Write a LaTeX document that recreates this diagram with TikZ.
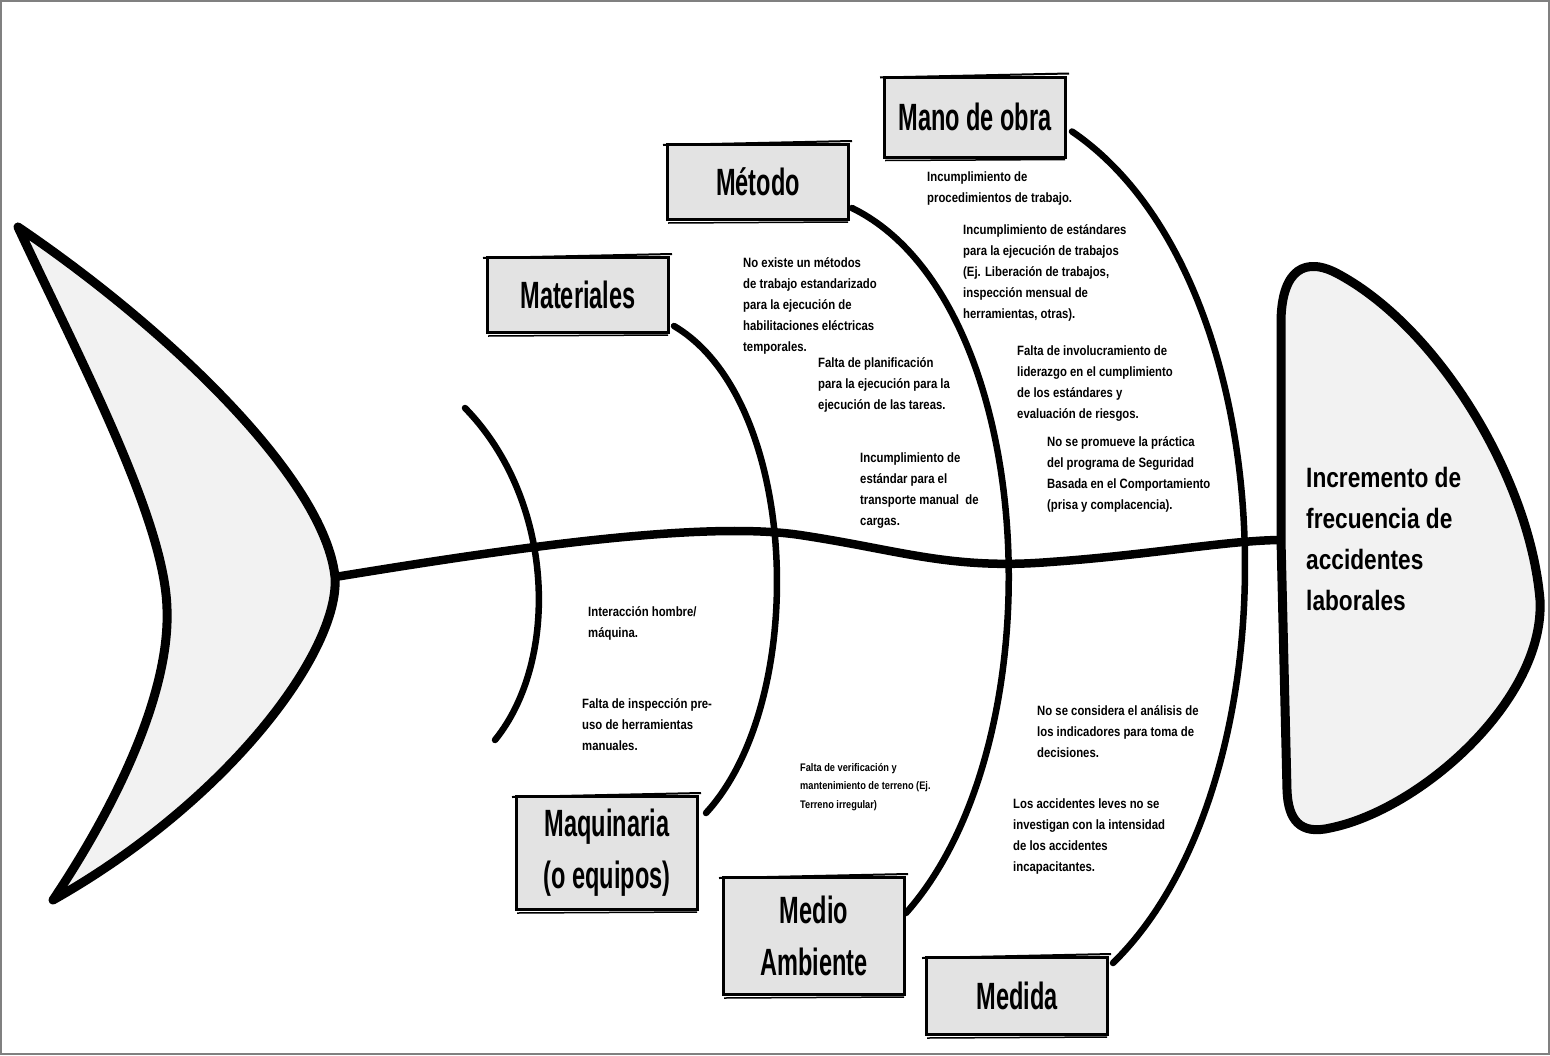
\documentclass[tikz,border=0pt]{standalone}
\usepackage{fontspec}
\setmainfont{Liberation Sans}
\newfontfamily\catfont[FakeStretch=0.62]{Liberation Sans Bold}
\newfontfamily\notefont[FakeStretch=0.84]{Liberation Sans Bold}
\newfontfamily\headfont[FakeStretch=0.81]{Liberation Sans Bold}
\usetikzlibrary{calc}
\definecolor{fishfill}{HTML}{F2F2F2}
\definecolor{boxfill}{HTML}{E3E3E3}
\definecolor{framegray}{HTML}{808080}
\pgfdeclarelayer{back}
\pgfsetlayers{back,main}

\begin{document}
\begin{tikzpicture}[x=1pt,y=-1pt,
  outline/.style={draw=black,line width=9pt,line join=round,fill=fishfill},
  bone/.style={draw=black,line width=6.5pt,line cap=round},
  catbox/.style={draw=black,line width=3pt,fill=boxfill,inner sep=0pt,
    minimum width=181pt,align=center,font=\catfont\fontsize{38}{52}\selectfont},
  note/.style={anchor=north west,inner sep=0pt,align=left,
    font=\notefont\fontsize{13.5}{21}\selectfont},
  smallnote/.style={note,font=\notefont\fontsize{11}{18.5}\selectfont},
]
\useasboundingbox (0,0) rectangle (1550,1055);

% category boxes
\node[catbox,minimum height=80pt] (mo)  at (975,117)  {Mano de obra};
\node[catbox,minimum height=75pt] (met) at (758,182)  {Método};
\node[catbox,minimum height=75pt] (mat) at (578,295)  {Materiales};
\node[catbox,minimum height=113pt] (maq) at (607,853) {Maquinaria\\(o equipos)};
\node[catbox,minimum height=117pt] (ma)  at (814,936) {Medio\\Ambiente};
\node[catbox,minimum height=77pt] (med) at (1017,996) {Medida};

% hand-drawn look on the box edges
\foreach \b in {mo,met,mat,maq,ma,med} {
  \draw[line width=2pt] ($(\b.north west)+(-3,2)$) -- ($(\b.north east)+(2,-2)$);
  \draw[line width=1.5pt] ($(\b.south west)+(2,2)$) -- ($(\b.south east)+(-2,1)$);
}

% head with the effect
\node[anchor=north west,inner sep=0pt,align=left,
  font=\headfont\fontsize{28}{41}\selectfont] (effect) at (1306,467)
  {Incremento de\\frecuencia de\\accidentes\\laborales};

\begin{pgfonlayer}{back}
  % page and frame
  \fill[white] (0,0) rectangle (1550,1055);
  \draw[framegray,line width=2pt] (1,1) rectangle (1549,1054);
  % tail
  \path[outline] (18,227) .. controls (170,330) and (325,480) .. (335,577)
    .. controls (340,650) and (230,800) .. (53,900)
    .. controls (120,800) and (170,690) .. (167,609)
    .. controls (165,520) and (80,360) .. cycle;
  \coordinate (tailtip) at (335,577);
  % head
  \path[outline] (1281,540) -- (1281,320) .. controls (1282,270) and (1305,255) .. (1340,275)
    .. controls (1440,330) and (1530,480) .. (1540,600)
    .. controls (1545,700) and (1420,810) .. (1330,828)
    .. controls (1300,835) and (1288,820) .. (1287,790) -- cycle;
  \coordinate (headbase) at (1282,540);
  % spine
  \draw[bone,line width=8.5pt,line cap=butt] (tailtip) .. controls (500,550) and (700,520) .. (800,535)
    .. controls (900,550) and (950,570) .. (1050,562)
    .. controls (1150,555) and (1230,540) .. (headbase);
  % bones
  \coordinate (lonetop) at (465,408);
  \coordinate (lonebot) at (495,740);
  \draw[bone] (lonetop) .. controls (555,500) and (560,660) .. (lonebot);
  \draw[bone] ($(mat.south east)+(4,-8)$) .. controls (800,400) and (810,700) .. ($(maq.north east)+(7,18)$);
  \draw[bone] ($(met.south east)+(2,-13)$) .. controls (1040,300) and (1060,740) .. ($(ma.north east)+(0,37)$);
  \draw[bone] ($(mo.south east)+(5,-27)$) .. controls (1290,280) and (1300,780) .. ($(med.north east)+(4,7)$);
\end{pgfonlayer}

% causes
\node[note] (t1) at (927,172) {Incumplimiento de\\procedimientos de trabajo.};
\node[note] (t2) at (963,224) {Incumplimiento de estándares\\para la ejecución de trabajos\\(Ej. Liberación de trabajos,\\inspección mensual de\\herramientas, otras).};
\node[note] (t3) at (1017,346) {Falta de involucramiento de\\liderazgo en el cumplimiento\\de los estándares y\\evaluación de riesgos.};
\node[note] (t4) at (1047,436) {No se promueve la práctica\\del programa de Seguridad\\Basada en el Comportamiento\\(prisa y complacencia).};
\node[note] (t5) at (743,257) {No existe un métodos\\de trabajo estandarizado\\para la ejecución de\\habilitaciones eléctricas\\temporales.};
\node[note] (t6) at (818,357) {Falta de planificación\\para la ejecución para la\\ejecución de las tareas.};
\node[note] (t7) at (860,453) {Incumplimiento de\\estándar para el\\transporte manual\ \ de\\cargas.};
\node[note] (t8) at (588,606) {Interacción hombre/\\máquina.};
\node[note] (t9) at (582,698) {Falta de inspección pre-\\uso de herramientas\\manuales.};
\node[smallnote] (t10) at (800,763) {Falta de verificación y\\mantenimiento de terreno (Ej.\\Terreno irregular)};
\node[note] (t11) at (1037,705) {No se considera el análisis de\\los indicadores para toma de\\decisiones.};
\node[note] (t12) at (1013,799) {Los accidentes leves no se\\investigan con la intensidad\\de los accidentes\\incapacitantes.};
\end{tikzpicture}
\end{document}
